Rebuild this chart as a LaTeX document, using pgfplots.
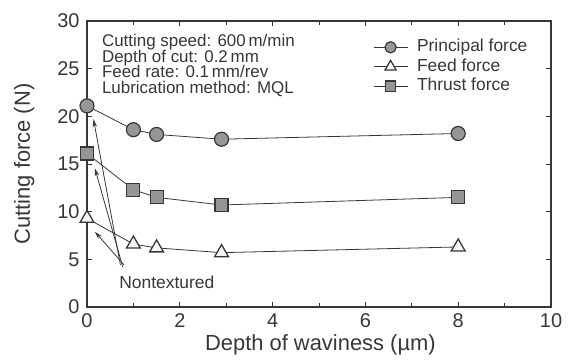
\documentclass[border=0pt]{standalone}
\usepackage{pgfplots}
\pgfplotsset{compat=1.18}
\usepackage{fontspec}
\setmainfont{Liberation Sans}
\usetikzlibrary{arrows.meta}
\definecolor{tg}{RGB}{55,55,55}
\definecolor{mk}{RGB}{150,150,150}
\begin{document}
\begin{tikzpicture}
\path[use as bounding box] (0,0) rectangle (571bp,362bp);
\begin{axis}[
 at={(87bp,55bp)}, anchor=south west, scale only axis, width=464bp, height=286bp,
 xmin=0, xmax=10, ymin=0, ymax=30,
 xtick={0,2,...,10}, minor xtick={1,3,...,9}, ytick={0,5,...,30},
 tick align=inside, major tick length=5bp, minor tick length=4bp,
 axis line style={tg, line width=1.1pt},
 tick style={tg, line width=0.9pt},
 tick label style={font=\fontsize{20}{24}\selectfont, text=tg},
 xticklabel style={yshift=-3bp},
 yticklabel style={xshift=-4bp},
 /pgf/number format/assume math mode=true,
 xlabel={Depth of waviness (µm)}, ylabel={Cutting force (N)},
 label style={font=\fontsize{22}{26}\selectfont, text=tg},
 xlabel style={at={(axis description cs:0.503,-0.133)}, anchor=center},
 ylabel style={at={(axis description cs:-0.1355,0.5)}, anchor=center},
 clip=false,
 legend style={at={(axis description cs:0.6164,0.942)}, anchor=north west, draw=none, fill=none,
   font=\fontsize{17.5}{20}\selectfont, text=tg, inner sep=0pt, row sep=0.5bp,
   nodes={text height=13bp, text depth=4bp, inner sep=1bp},
   /tikz/every odd column/.append style={column sep=8bp}},
 legend cell align=left,
 legend image code/.code={\draw[mark repeat=2,mark phase=2,every mark/.append style={scale=0.8}] plot coordinates {(0bp,0bp) (17bp,0bp) (34bp,0bp)};},
]
\addplot[tg, line width=0.8pt, mark=*, mark size=7bp, mark options={fill=mk, draw=tg, line width=1.2pt}]
 coordinates {(0,21.1) (1,18.6) (1.5,18.1) (2.9,17.6) (8,18.2)};
\addlegendentry{Principal force}
\addplot[tg, line width=0.8pt, mark=triangle*, mark size=8bp, mark options={fill=white!92!gray, draw=tg, line width=1.3pt}]
 coordinates {(0,9.3) (1,6.6) (1.5,6.2) (2.9,5.7) (8,6.3)};
\addlegendentry{Feed force}
\addplot[tg, line width=0.8pt, mark=square*, mark size=6.5bp, mark options={fill=mk, draw=tg, line width=1.2pt}]
 coordinates {(0,16.1) (1,12.3) (1.5,11.5) (2.9,10.7) (8,11.5)};
\addlegendentry{Thrust force}
\node[anchor=base west, font=\fontsize{17}{19}\selectfont, text=tg, inner sep=0pt] at (axis cs:0.32,27.3) {Cutting speed: 600\,m/min};
\node[anchor=base west, font=\fontsize{17}{19}\selectfont, text=tg, inner sep=0pt] at (axis cs:0.32,25.67) {Depth of cut: 0.2\,mm};
\node[anchor=base west, font=\fontsize{17}{19}\selectfont, text=tg, inner sep=0pt] at (axis cs:0.32,24.06) {Feed rate: 0.1\,mm/rev};
\node[anchor=base west, font=\fontsize{17}{19}\selectfont, text=tg, inner sep=0pt] at (axis cs:0.32,22.42) {Lubrication method: MQL};
\node[font=\fontsize{17.5}{20}\selectfont, text=tg, inner sep=0pt] at (axis cs:1.72,2.62) {Nontextured};
\draw[tg, line width=0.8pt, -{Stealth[length=8bp,width=4.5bp]}] (axis cs:0.72,4.4) -- (axis cs:0.14,19.7);
\draw[tg, line width=0.8pt, -{Stealth[length=8bp,width=4.5bp]}] (axis cs:0.77,4.2) -- (axis cs:0.17,14.55);
\draw[tg, line width=0.8pt, -{Stealth[length=8bp,width=4.5bp]}] (axis cs:0.8,4.4) -- (axis cs:0.17,7.9);
\end{axis}
\end{tikzpicture}
\end{document}
